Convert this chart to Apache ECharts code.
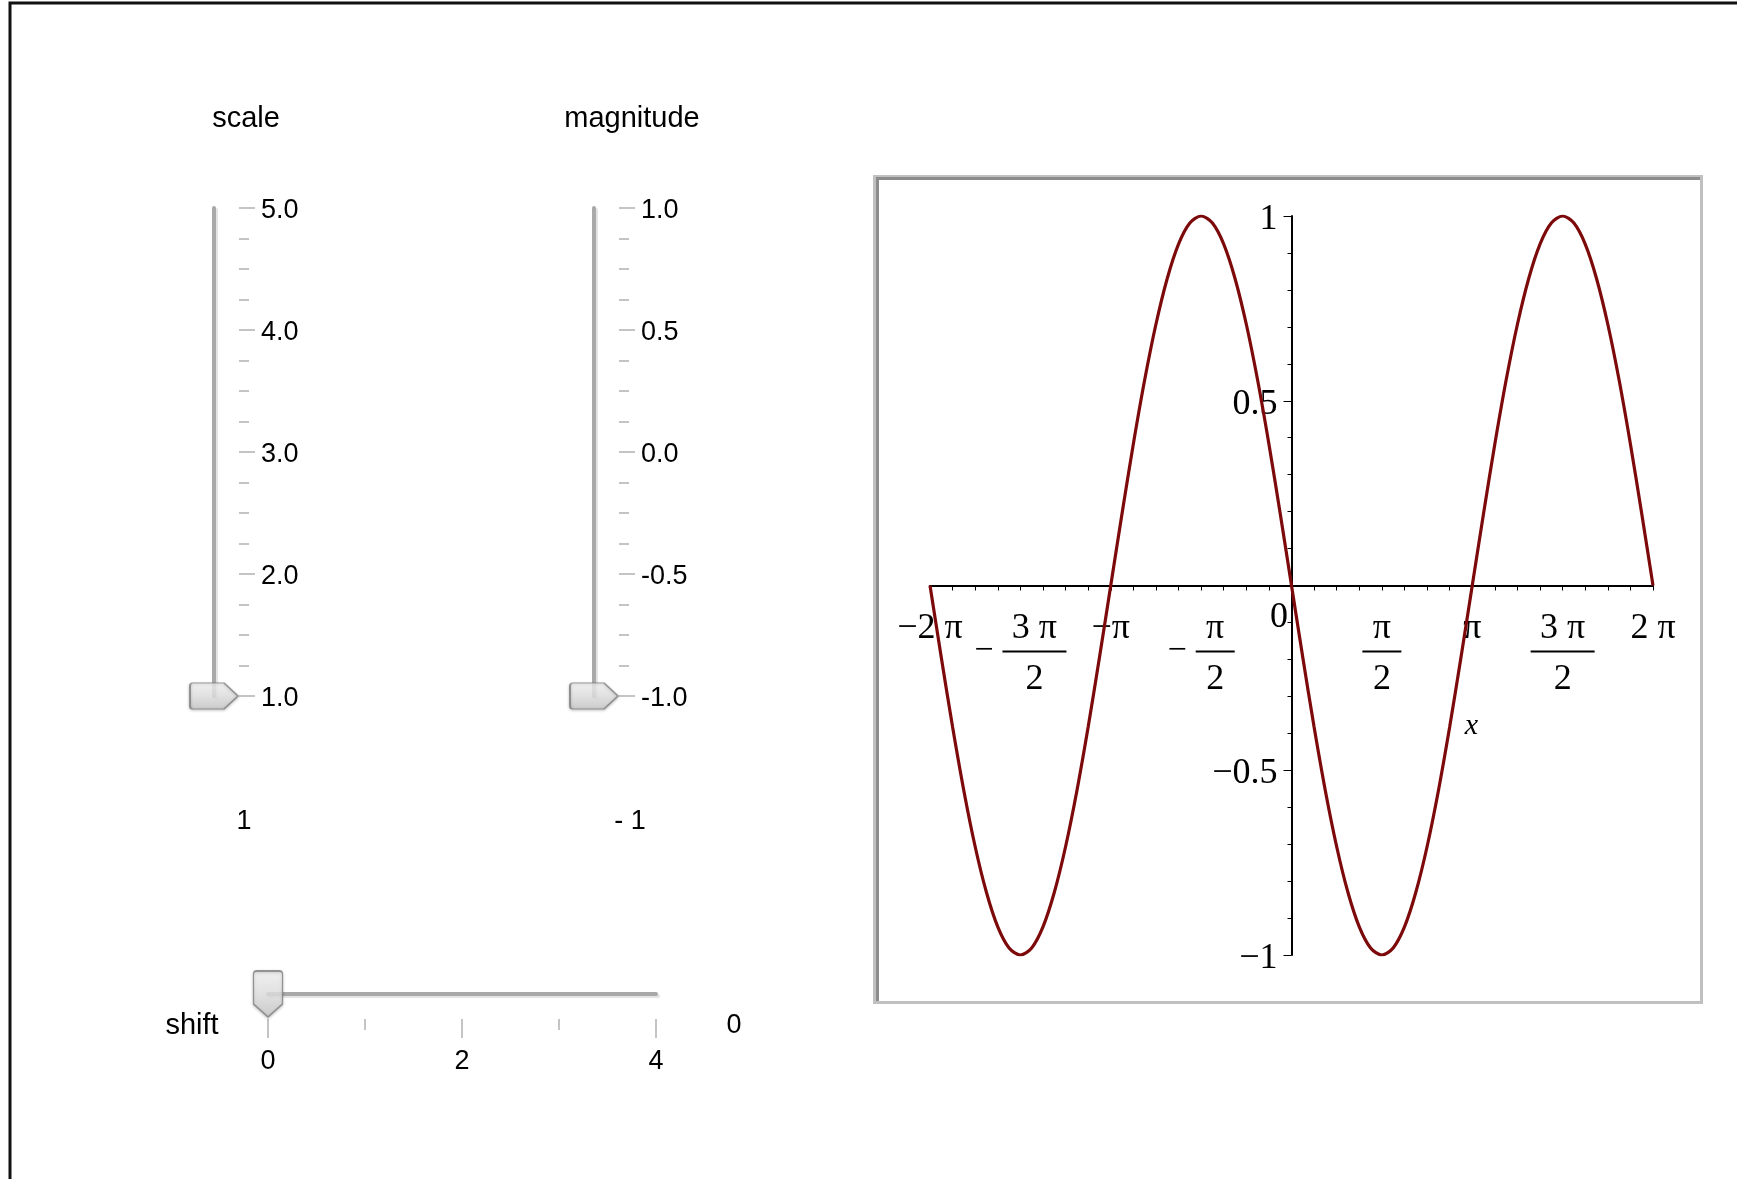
<!DOCTYPE html>
<html>
<head>
<meta charset="utf-8">
<script src="https://cdn.jsdelivr.net/npm/echarts@6/dist/echarts.min.js"></script>
<style>
  html, body { margin: 0; padding: 0; background: #fff; }
  #main { width: 1737px; height: 1179px; }
</style>
</head>
<body>
<div id="main"></div>
<script>
// f(x) = magnitude * sin(scale * (x - shift)), sampled on [-2π, 2π]; x is in multiples of π
const xPi = [
  -2, -1.9375, -1.875, -1.8125, -1.75, -1.6875, -1.625, -1.5625,
  -1.5, -1.4375, -1.375, -1.3125, -1.25, -1.1875, -1.125, -1.0625,
  -1, -0.9375, -0.875, -0.8125, -0.75, -0.6875, -0.625, -0.5625,
  -0.5, -0.4375, -0.375, -0.3125, -0.25, -0.1875, -0.125, -0.0625,
  0, 0.0625, 0.125, 0.1875, 0.25, 0.3125, 0.375, 0.4375,
  0.5, 0.5625, 0.625, 0.6875, 0.75, 0.8125, 0.875, 0.9375,
  1, 1.0625, 1.125, 1.1875, 1.25, 1.3125, 1.375, 1.4375,
  1.5, 1.5625, 1.625, 1.6875, 1.75, 1.8125, 1.875, 1.9375, 2
];
const yVal = [
  0, -0.195, -0.383, -0.556, -0.707, -0.831, -0.924, -0.981,
  -1, -0.981, -0.924, -0.831, -0.707, -0.556, -0.383, -0.195,
  0, 0.195, 0.383, 0.556, 0.707, 0.831, 0.924, 0.981,
  1, 0.981, 0.924, 0.831, 0.707, 0.556, 0.383, 0.195,
  0, -0.195, -0.383, -0.556, -0.707, -0.831, -0.924, -0.981,
  -1, -0.981, -0.924, -0.831, -0.707, -0.556, -0.383, -0.195,
  0, 0.195, 0.383, 0.556, 0.707, 0.831, 0.924, 0.981,
  1, 0.981, 0.924, 0.831, 0.707, 0.556, 0.383, 0.195, 0
];

// x-axis ticks (multiples of π) and their labels
const piTicks = [-2, -1.5, -1, -0.5, 0, 0.5, 1, 1.5, 2];
const piTickLabels = ['−2 π', '−3 π/2', '−π', '−π/2', '0', 'π/2', 'π', '3 π/2', '2 π'];

// slider settings
const scaleRange = [1, 5];
const magnitudeRange = [-1, 1];
const shiftRange = [0, 4];
const scaleValue = 1;
const magnitudeValue = -1;
const shiftValue = 0;
const scaleReadout = '1';
const magnitudeReadout = '- 1';
const shiftReadout = '0';

const SERIF = '"Liberation Serif", "DejaVu Serif", serif';
const SANS = '"Liberation Sans", Arial, sans-serif';
const CURVE = '#7d0a0a';
const TICK_GRAY = '#c4c4c4';
const TRACK_GRAY = '#a9a9a9';

// plot area of the graph
const PLOT = { left: 930, right: 84, top: 216, bottom: 224 };
const PLOT_W = 1737 - PLOT.left - PLOT.right;
const PLOT_H = 1179 - PLOT.top - PLOT.bottom;

const points = xPi.map((x, i) => [x, yVal[i]]);

// π-multiples rendered as stacked fractions
function piLabel(v) {
  const i = piTicks.findIndex(t => Math.abs(t - v) < 1e-9);
  if (i < 0) return '';
  const s = piTickLabels[i];
  if (s === '0') return '{z|0}';
  if (s.indexOf('/') >= 0) {
    const neg = s.charAt(0) === '−';
    const body = neg ? s.slice(1) : s;
    const parts = body.split('/');
    const bar = parts[0].length > 1 ? 'b3' : 'b1';
    if (neg) return '{nn|' + parts[0] + '}\n{m|−}{g|}{' + bar + '|}\n{dd|' + parts[1] + '}';
    return '{n|' + parts[0] + '}\n{' + bar + '|}\n{d|' + parts[1] + '}';
  }
  return '{w|' + s + '}';
}

// label text nudged a little below its tick by an empty spacer line
const nudged = (text) => '{p|}\n{v|' + text + '}';

const thumbRight = 'path://M0,3 Q0,0 3,0 L34,0 L48,13 L34,26 L3,26 Q0,26 0,23 Z';
const thumbDown = 'path://M0,3 Q0,0 3,0 L26,0 Q29,0 29,3 L29,33 L14.5,46 L0,33 Z';
const thumbStyle = {
  color: new echarts.graphic.LinearGradient(0, 0, 0, 1, [
    { offset: 0, color: '#fafafa' }, { offset: 0.5, color: '#e6e6e6' }, { offset: 1, color: '#c9c9c9' }
  ]),
  borderColor: '#7f7f7f',
  borderWidth: 1.5,
  shadowColor: 'rgba(0,0,0,0.25)',
  shadowBlur: 3,
  shadowOffsetY: 1
};

function sliderTrack(extra) {
  return Object.assign({
    type: 'value',
    axisLine: { show: true, onZero: false, lineStyle: { color: TRACK_GRAY, width: 4, shadowColor: '#e4e4e4', shadowOffsetX: 2, shadowOffsetY: 2 } },
    axisTick: { show: false },
    axisLabel: { show: false },
    splitLine: { show: false }
  }, extra);
}

function sliderScale(extra) {
  return Object.assign({
    type: 'value',
    axisLine: { show: false, onZero: false },
    splitLine: { show: false },
    minorSplitLine: { show: false }
  }, extra);
}

const sliderLabel = (margin, fmt, extra) => Object.assign({
  show: true, margin: margin, color: '#000', fontFamily: SANS, fontSize: 27,
  formatter: fmt, showMinLabel: true, showMaxLabel: true
}, extra || {});

const vSliderLabel = sliderLabel(22, v => nudged(v.toFixed(1)), {
  align: 'left',
  rich: {
    p: { lineHeight: 5 },
    v: { fontFamily: SANS, fontSize: 27, lineHeight: 30, color: '#000' }
  }
});

const hidden = (grid, min, max) => ({ type: 'value', gridIndex: grid, min: min, max: max, show: false, axisLine: { onZero: false } });

const serifText = (extra) => Object.assign({ fontFamily: SERIF, fontSize: 36, lineHeight: 40, color: '#000' }, extra || {});

const chart = echarts.init(document.getElementById('main'), null, { renderer: 'canvas' });

chart.setOption({
  animation: false,
  backgroundColor: '#fff',
  grid: [
    PLOT,
    { left: 214, width: 25, top: 208, height: 488 },
    { left: 594, width: 25, top: 208, height: 488 },
    { left: 268, width: 388, top: 994, height: 25 }
  ],
  xAxis: [
    {
      type: 'value', gridIndex: 0, min: -2, max: 2, interval: 0.5,
      position: 'bottom', offset: -PLOT_H / 2,
      axisLine: { onZero: false, lineStyle: { color: '#000', width: 2 } },
      axisTick: { show: true, length: 5, lineStyle: { color: '#000', width: 1 } },
      minorTick: { show: true, splitNumber: 4, length: 5, lineStyle: { color: '#000', width: 1 } },
      splitLine: { show: false },
      minorSplitLine: { show: false },
      name: 'x',
      nameLocation: 'middle',
      nameGap: 126,
      nameTextStyle: { fontFamily: SERIF, fontStyle: 'italic', fontSize: 30, color: '#000', padding: [0, 0, 0, 360] },
      axisLabel: {
        show: true, margin: 23, showMinLabel: true, showMaxLabel: true,
        formatter: piLabel,
        rich: {
          w: serifText(),
          n: serifText(),
          nn: serifText({ padding: [0, 0, 0, 28] }),
          d: serifText({ lineHeight: 50 }),
          dd: serifText({ lineHeight: 50, padding: [0, 0, 0, 28] }),
          m: { fontFamily: SERIF, fontSize: 34, lineHeight: 6, color: '#000' },
          g: { width: 9, height: 2, lineHeight: 6 },
          b1: { width: 39, height: 2, lineHeight: 6, backgroundColor: '#000' },
          b3: { width: 64, height: 2, lineHeight: 6, backgroundColor: '#000' },
          z: serifText({ lineHeight: 18, padding: [0, 25, 0, 0] })
        }
      }
    },
    hidden(1, 0, 1),
    hidden(2, 0, 1),
    sliderTrack({ gridIndex: 3, position: 'top', min: shiftRange[0], max: shiftRange[1] }),
    sliderScale({
      gridIndex: 3, position: 'bottom', min: shiftRange[0], max: shiftRange[1], interval: 2,
      axisTick: { show: true, length: 19, lineStyle: { color: TICK_GRAY, width: 2 } },
      minorTick: { show: true, splitNumber: 2, length: 11, lineStyle: { color: TICK_GRAY, width: 2 } },
      axisLabel: sliderLabel(29, v => String(v))
    })
  ],
  yAxis: [
    {
      type: 'value', gridIndex: 0, min: -1, max: 1, interval: 0.5,
      position: 'left', offset: -PLOT_W / 2,
      axisLine: { onZero: false, lineStyle: { color: '#000', width: 2 } },
      axisTick: { show: true, length: 8, lineStyle: { color: '#000', width: 1 } },
      minorTick: { show: true, splitNumber: 5, length: 4, lineStyle: { color: '#000', width: 1 } },
      splitLine: { show: false },
      minorSplitLine: { show: false },
      axisLabel: {
        margin: 14, showMinLabel: true, showMaxLabel: true,
        formatter: v => (v === 0 ? '' : nudged(v < 0 ? '−' + String(-v) : String(v))),
        rich: {
          p: { lineHeight: 7 },
          v: serifText()
        }
      }
    },
    sliderTrack({ gridIndex: 1, position: 'left', min: scaleRange[0], max: scaleRange[1] }),
    sliderScale({
      gridIndex: 1, position: 'right', min: scaleRange[0], max: scaleRange[1], interval: 1,
      axisTick: { show: true, length: 16, lineStyle: { color: TICK_GRAY, width: 2 } },
      minorTick: { show: true, splitNumber: 4, length: 10, lineStyle: { color: TICK_GRAY, width: 2 } },
      axisLabel: vSliderLabel
    }),
    sliderTrack({ gridIndex: 2, position: 'left', min: magnitudeRange[0], max: magnitudeRange[1] }),
    sliderScale({
      gridIndex: 2, position: 'right', min: magnitudeRange[0], max: magnitudeRange[1], interval: 0.5,
      axisTick: { show: true, length: 16, lineStyle: { color: TICK_GRAY, width: 2 } },
      minorTick: { show: true, splitNumber: 4, length: 10, lineStyle: { color: TICK_GRAY, width: 2 } },
      axisLabel: vSliderLabel
    }),
    hidden(3, 0, 1)
  ],
  series: [
    {
      type: 'line', xAxisIndex: 0, yAxisIndex: 0,
      data: points, showSymbol: false, smooth: 0.3,
      lineStyle: { color: CURVE, width: 3.2 },
      z: 5
    },
    {
      type: 'scatter', xAxisIndex: 1, yAxisIndex: 1,
      data: [[0, scaleValue]], symbol: thumbRight, symbolSize: [48, 26],
      itemStyle: thumbStyle, z: 10, silent: true
    },
    {
      type: 'scatter', xAxisIndex: 2, yAxisIndex: 3,
      data: [[0, magnitudeValue]], symbol: thumbRight, symbolSize: [48, 26],
      itemStyle: thumbStyle, z: 10, silent: true
    },
    {
      type: 'scatter', xAxisIndex: 3, yAxisIndex: 5,
      data: [[shiftValue, 1]], symbol: thumbDown, symbolSize: [29, 46],
      itemStyle: thumbStyle, z: 10, silent: true
    }
  ],
  graphic: [
    // outer panel border
    { type: 'polyline', shape: { points: [[10, 1179], [10, 3], [1737, 3]] }, style: { stroke: '#111', lineWidth: 3, fill: null } },
    // plot frame
    { type: 'rect', shape: { x: 874.5, y: 176.5, width: 827, height: 826 }, style: { stroke: '#c0c0c0', lineWidth: 3, fill: null } },
    { type: 'polyline', shape: { points: [[877.5, 1001], [877.5, 178.5], [1700, 178.5]] }, style: { stroke: '#8c8c8c', lineWidth: 3, fill: null } },
    // slider captions and readouts
    { type: 'text', x: 246, y: 119, style: { text: 'scale', font: '29px ' + SANS, fill: '#000', textAlign: 'center', textVerticalAlign: 'middle', align: 'center', verticalAlign: 'middle' } },
    { type: 'text', x: 632, y: 119, style: { text: 'magnitude', font: '29px ' + SANS, fill: '#000', textAlign: 'center', textVerticalAlign: 'middle', align: 'center', verticalAlign: 'middle' } },
    { type: 'text', x: 244, y: 822, style: { text: scaleReadout, font: '27px ' + SANS, fill: '#000', textAlign: 'center', textVerticalAlign: 'middle', align: 'center', verticalAlign: 'middle' } },
    { type: 'text', x: 630, y: 822, style: { text: magnitudeReadout, font: '27px ' + SANS, fill: '#000', textAlign: 'center', textVerticalAlign: 'middle', align: 'center', verticalAlign: 'middle' } },
    { type: 'text', x: 192, y: 1026, style: { text: 'shift', font: '29px ' + SANS, fill: '#000', textAlign: 'center', textVerticalAlign: 'middle', align: 'center', verticalAlign: 'middle' } },
    { type: 'text', x: 734, y: 1026, style: { text: shiftReadout, font: '27px ' + SANS, fill: '#000', textAlign: 'center', textVerticalAlign: 'middle', align: 'center', verticalAlign: 'middle' } }
  ]
});
</script>
</body>
</html>
